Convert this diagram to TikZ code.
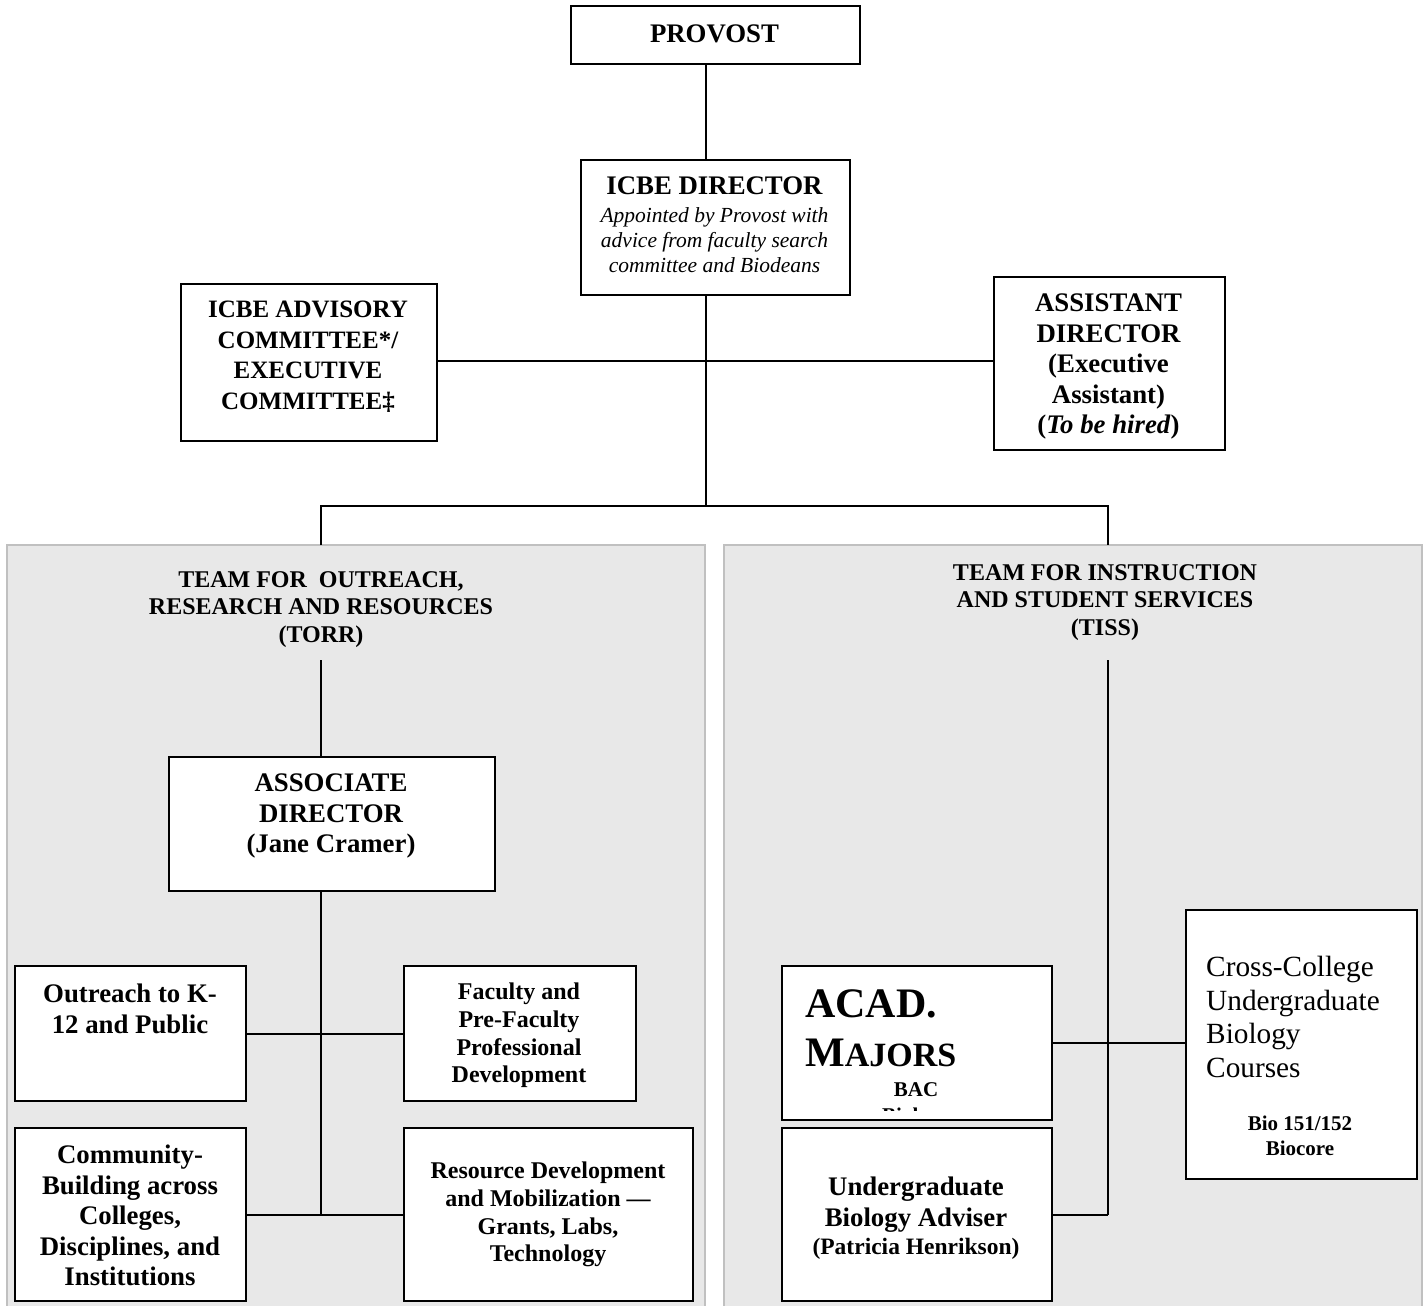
\documentclass[tikz,border=0pt]{standalone}
\usepackage{fontspec}
\setmainfont{Liberation Serif}
\definecolor{panelfill}{HTML}{E8E8E8}
\definecolor{panelline}{HTML}{C0C0C0}
\newcommand\fbig{\fontsize{26.8}{30.5}\selectfont\bfseries}
\newcommand\fadv{\fontsize{25}{30.5}\selectfont\bfseries}
\newcommand\fmid{\fontsize{24}{27.6}\selectfont\bfseries}
\newcommand\fsm{\fontsize{21}{25}\selectfont\bfseries}
\newcommand\fit{\fontsize{21.5}{25}\selectfont\itshape}
\begin{document}
\begin{tikzpicture}[x=1pt,y=-1pt,
  box/.style={draw=black, line width=2.2pt, fill=white, inner sep=0pt, anchor=north west},
  txt/.style={inner sep=0pt, anchor=north, align=center},
  conn/.style={line width=2pt, draw=black},
  panelborder/.style={draw=panelline, line width=2pt}]
\useasboundingbox (0,0) rectangle (1424,1306);
% panels
\fill[panelfill] (7,545) rectangle (705,1306);
\fill[panelfill] (724,545) rectangle (1422,1306);
\draw[panelborder] (7,1310) -- (7,545) -- (705,545) -- (705,1310);
\draw[panelborder] (724,1310) -- (724,545) -- (1422,545) -- (1422,1310);
% top boxes
\node[box, minimum width=289pt, minimum height=58pt] (provost) at (570,5) {};
\node[txt, font=\fbig] (provostt) at (714.5,24.5) {PROVOST};
\node[box, minimum width=269pt, minimum height=135pt] (director) at (580,159) {};
\node[txt, font=\fit] (directort) at (714.5,177)
  {{\fbig\upshape ICBE DIRECTOR}\\[3pt]Appointed by Provost with\\advice from faculty search\\committee and Biodeans};
\node[box, minimum width=256pt, minimum height=157pt] (advisory) at (180,283) {};
\node[txt, font=\fadv] (advisoryt) at (308,301)
  {ICBE ADVISORY\\COMMITTEE*/\\EXECUTIVE\\COMMITTEE‡};
\node[box, minimum width=231pt, minimum height=173pt] (assistant) at (993,276) {};
\node[txt, font=\fbig] (assistantt) at (1108.5,294)
  {ASSISTANT\\DIRECTOR\\(Executive\\Assistant)\\(\textit{To be hired})};
% team titles
\node[txt, font=\fmid] (torr) at (321,571) {TEAM FOR\ \ OUTREACH,\\RESEARCH AND RESOURCES\\(TORR)};
\node[txt, font=\fmid] (tiss) at (1105,564) {TEAM FOR INSTRUCTION\\AND STUDENT SERVICES\\(TISS)};
% left team boxes
\node[box, minimum width=326pt, minimum height=134pt] (assoc) at (168,756) {};
\node[txt, font=\fbig] (assoct) at (331,774) {ASSOCIATE\\DIRECTOR\\(Jane Cramer)};
\node[box, minimum width=231pt, minimum height=135pt] (outreach) at (14,965) {};
\node[txt, font=\fbig] (outreacht) at (130,984) {Outreach to K-\\12 and Public};
\node[box, minimum width=232pt, minimum height=135pt] (faculty) at (403,965) {};
\node[txt, font=\fmid] (facultyt) at (519,983) {Faculty and\\Pre-Faculty\\Professional\\Development};
\node[box, minimum width=231pt, minimum height=173pt] (community) at (14,1127) {};
\node[txt, font=\fbig] (communityt) at (130,1145) {Community-\\Building across\\Colleges,\\Disciplines, and\\Institutions};
\node[box, minimum width=289pt, minimum height=173pt] (resource) at (403,1127) {};
\node[txt, font=\fmid] (resourcet) at (548,1162) {Resource Development\\and Mobilization ---\\Grants, Labs,\\Technology};
% right team boxes
\node[box, minimum width=270pt, minimum height=154pt] (acad) at (781,965) {};
\node[anchor=base west, inner sep=0pt, font=\fontsize{42}{42}\selectfont\bfseries] (acadt) at (805,1017) {ACAD.};
\node[anchor=base west, inner sep=0pt, font=\fontsize{42}{42}\selectfont\bfseries] (majorst) at (805,1066) {M{\fontsize{34}{34}\selectfont AJORS}};
\node[anchor=base, inner sep=0pt, font=\fsm] (bact) at (916,1096) {BAC};
\begin{scope}
\clip (781,965) rectangle (1051,1110);
\node[anchor=base, inner sep=0pt, font=\fsm] (biolt) at (916,1122) {Biology};
\end{scope}
\node[box, minimum width=270pt, minimum height=173pt] (adviser) at (781,1127) {};
\node[txt, font=\fbig] (advisert) at (916,1177)
  {Undergraduate\\Biology Adviser\\[-2pt]{\fontsize{23.5}{25}\selectfont (Patricia Henrikson)}};
\node[box, minimum width=231pt, minimum height=269pt] (cross) at (1185,909) {};
\node[anchor=north west, align=left, inner sep=0pt, font=\fontsize{29.3}{33.6}\selectfont] (crosst) at (1206,956)
  {Cross-College\\Undergraduate\\Biology\\Courses};
\node[txt, font=\fsm] (biot) at (1300,1116) {Bio 151/152\\Biocore};
% coordinates
\coordinate (bus) at (706,506);
\coordinate (hub) at (706,361);
\coordinate (torrtop) at (321,545);
\coordinate (tisstop) at (1108,545);
\coordinate (torrline) at (321,660);
\coordinate (tissline) at (1108,660);
\coordinate (lbot) at (321,1215);
\coordinate (rbot) at (1108,1215);
% connectors
\draw[conn] (provost.south -| bus) -- (director.north -| bus);
\draw[conn] (director.south -| bus) -- (bus);
\draw[conn] (advisory.east |- hub) -- (assistant.west |- hub);
\draw[conn] (torrtop) |- (bus) -| (tisstop);
\draw[conn] (torrline) -- (assoc.north -| torrline);
\draw[conn] (assoc.south -| lbot) -- (lbot);
\draw[conn] (outreach.east) -- (faculty.west);
\draw[conn] (community.east |- lbot) -- (resource.west |- lbot);
\draw[conn] (tissline) -- (rbot);
\draw[conn] (acad.east) -- (acad.east -| cross.west);
\draw[conn] (adviser.east |- rbot) -- (rbot);
\end{tikzpicture}
\end{document}
